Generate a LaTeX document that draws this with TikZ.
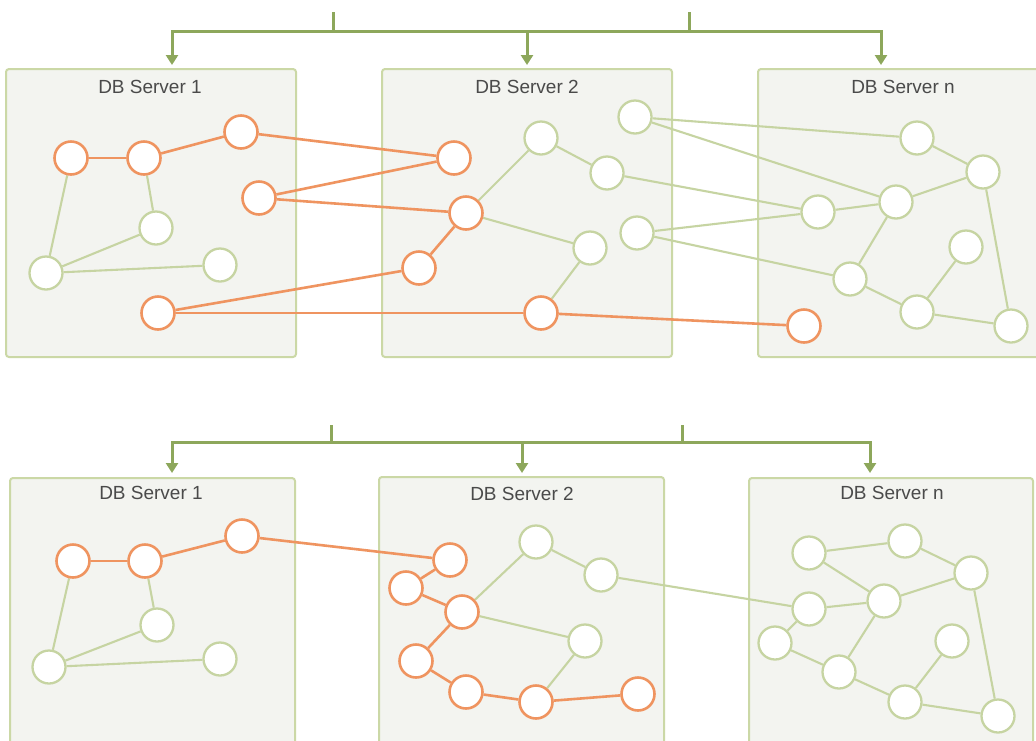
\documentclass[tikz,border=0pt]{standalone}
\usepackage{fontspec}
\setmainfont{Liberation Sans}
\usetikzlibrary{arrows.meta}
\definecolor{boxfill}{HTML}{F3F4F0}
\definecolor{boxline}{HTML}{CBD8A6}
\definecolor{trunkc}{HTML}{8DA75B}
\definecolor{orng}{HTML}{EF9460}
\definecolor{grn}{HTML}{C6D4A2}
\definecolor{txt}{HTML}{4A4A4A}
\pgfdeclarelayer{bg}
\pgfdeclarelayer{edgelayer}
\pgfsetlayers{bg,edgelayer,main}
\tikzset{
  box/.style={draw=boxline, fill=boxfill, line width=2pt, rounded corners=3pt},
  trunk/.style={draw=trunkc, line width=3pt},
  tip/.style={-{Triangle[width=12pt,length=10pt]}},
  bitip/.style={{Triangle[width=12pt,length=10pt]}-{Triangle[width=12pt,length=10pt]}},
  title/.style={text=txt, font=\fontsize{19}{22}\selectfont, inner sep=0pt},
  gn/.style={circle, draw=grn, fill=white, line width=2.3pt, minimum size=33pt, inner sep=0pt},
  on/.style={circle, draw=orng, fill=white, line width=2.6pt, minimum size=33pt, inner sep=0pt},
  ge/.style={draw=grn, line width=2.1pt},
  oe/.style={draw=orng, line width=2.6pt},
}
\begin{document}
\begin{tikzpicture}[x=1pt,y=-1pt]
\useasboundingbox (0,0) rectangle (1036,740);
\begin{pgfonlayer}{bg}
\clip (0,0) rectangle (1036,740);
\fill[white] (0,0) rectangle (1036,740);
\draw[box] (6,69) rectangle (296,357);
\draw[box] (382,69) rectangle (672,357);
\draw[box] (758,69) rectangle (1040,357);
\draw[box] (10,478) rectangle (295,760);
\draw[box] (379,477) rectangle (664,760);
\draw[box] (749,478) rectangle (1033,760);
\end{pgfonlayer}

% ================= TOP PANEL =================
\coordinate (ts1) at (333,12); \coordinate (tj1) at (333,31);
\coordinate (ts2) at (689,12); \coordinate (tj2) at (689,31);
\coordinate (tl) at (172,31); \coordinate (tle) at (172,65);
\coordinate (tr) at (881,31); \coordinate (tre) at (881,65);
\coordinate (tm) at (527,31); \coordinate (tme) at (527,65);
\draw[trunk] (ts1) -- (tj1);
\draw[trunk] (ts2) -- (tj2);
\draw[trunk,bitip] (tle) -- (tl) -- (tr) -- (tre);
\draw[trunk,tip] (tm) -- (tme);

\node[title] (tt1) at (150,87) {DB Server 1};
\node[title] (tt2) at (527,87) {DB Server 2};
\node[title] (tt3) at (903,87) {DB Server n};

% nodes server 1
\node[on] (A1) at (71,158) {};
\node[on] (A2) at (144,158) {};
\node[on] (A3) at (241,132) {};
\node[on] (A4) at (259,198) {};
\node[gn] (A5) at (156,228) {};
\node[gn] (A6) at (46,273) {};
\node[gn] (A7) at (220,265) {};
\node[on] (A8) at (158,313) {};
% server 2
\node[on] (B1) at (454,158) {};
\node[on] (B2) at (466,213) {};
\node[on] (B3) at (419,268) {};
\node[on] (B4) at (541,313) {};
\node[gn] (B5) at (541,138) {};
\node[gn] (B6) at (607,173) {};
\node[gn] (B7) at (590,248) {};
\node[gn] (B8) at (635,117) {};
\node[gn] (B9) at (637,233) {};
% server n
\node[gn] (C1) at (917,138) {};
\node[gn] (C2) at (983,172) {};
\node[gn] (C3) at (896,202) {};
\node[gn] (C4) at (818,212) {};
\node[gn] (C5) at (966,247) {};
\node[gn] (C6) at (850,279) {};
\node[gn] (C7) at (917,312) {};
\node[gn] (C8) at (1011,326) {};
\node[on] (C9) at (804,326) {};

% ================= BOTTOM PANEL =================
\coordinate (bs1) at (331,425); \coordinate (bj1) at (331,442);
\coordinate (bs2) at (682,425); \coordinate (bj2) at (682,442);
\coordinate (bl) at (172,442); \coordinate (ble) at (172,473);
\coordinate (br) at (870,442); \coordinate (bre) at (870,473);
\coordinate (bm) at (522,442); \coordinate (bme) at (522,473);
\draw[trunk] (bs1) -- (bj1);
\draw[trunk] (bs2) -- (bj2);
\draw[trunk,bitip] (ble) -- (bl) -- (br) -- (bre);
\draw[trunk,tip] (bm) -- (bme);

\node[title] (bt1) at (151,493) {DB Server 1};
\node[title] (bt2) at (522,494) {DB Server 2};
\node[title] (bt3) at (892,493) {DB Server n};

\node[on] (D1) at (73,561) {};
\node[on] (D2) at (145,561) {};
\node[on] (D3) at (242,536) {};
\node[gn] (D4) at (157,625) {};
\node[gn] (D5) at (49,667) {};
\node[gn] (D6) at (220,659) {};

\node[on] (E1) at (450,560) {};
\node[on] (E2) at (406,588) {};
\node[on] (E3) at (462,612) {};
\node[on] (E4) at (416,661) {};
\node[on] (E5) at (466,692) {};
\node[on] (E6) at (536,702) {};
\node[on] (E7) at (638,694) {};
\node[gn] (E8) at (536,542) {};
\node[gn] (E9) at (601,575) {};
\node[gn] (E10) at (585,641) {};

\node[gn] (F1) at (809,553) {};
\node[gn] (F2) at (905,541) {};
\node[gn] (F3) at (971,573) {};
\node[gn] (F4) at (884,601) {};
\node[gn] (F5) at (809,609) {};
\node[gn] (F6) at (775,643) {};
\node[gn] (F7) at (952,641) {};
\node[gn] (F8) at (839,672) {};
\node[gn] (F9) at (905,702) {};
\node[gn] (F10) at (998,716) {};

% ================= EDGES (behind nodes) =================
\begin{pgfonlayer}{edgelayer}
\foreach \a/\b in {A1/A6,A2/A5,A5/A6,A6/A7,B2/B5,B5/B6,B2/B7,B7/B4,B8/C1,B8/C3,B6/C4,B9/C4,B9/C6,C1/C2,C2/C3,C3/C4,C3/C6,C6/C7,C7/C5,C7/C8,C2/C8,
  D1/D5,D2/D4,D4/D5,D5/D6,E3/E8,E8/E9,E3/E10,E10/E6,E9/F5,F1/F2,F1/F4,F2/F3,F3/F4,F4/F5,F5/F6,F6/F8,F4/F8,F8/F9,F9/F7,F9/F10,F3/F10}
  \draw[ge] (\a) -- (\b);
\foreach \a/\b in {A1/A2,A2/A3,A3/B1,A4/B1,A4/B2,B2/B3,B3/A8,A8/B4,B4/C9,
  D1/D2,D2/D3,D3/E1,E1/E2,E2/E3,E3/E4,E4/E5,E5/E6,E6/E7}
  \draw[oe] (\a) -- (\b);
\end{pgfonlayer}
\end{tikzpicture}
\end{document}
